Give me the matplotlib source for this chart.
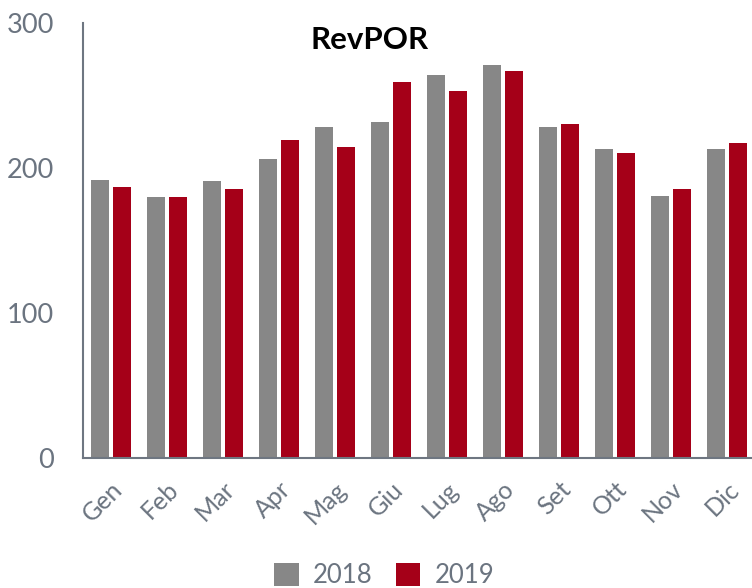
import numpy as np
import matplotlib.pyplot as plt

months = ["Gen", "Feb", "Mar", "Apr", "Mag", "Giu", "Lug", "Ago", "Set", "Ott", "Nov", "Dic"]
rev_2018 = [192, 180, 191, 206, 228, 232, 264, 271, 228, 213, 181, 213]
rev_2019 = [187, 180, 185.5, 219, 214.5, 259, 253, 267, 230, 210, 185.5, 217]

grey = "#878787"
red = "#A50018"
axis_col = "#6E7681"
label_col = "#6B7480"

plt.rcParams["font.family"] = ["Lato", "DejaVu Sans"]

fig = plt.figure(figsize=(7.52, 5.88), dpi=100)
ax = fig.add_axes([83 / 752, 130 / 588, 672 / 752, 435 / 588])

x = np.arange(len(months))
w = 0.32
off = 0.196
ax.bar(x - off, rev_2018, width=w, color=grey, label="2018")
ax.bar(x + off, rev_2019, width=w, color=red, label="2019")

ax.set_xlim(-0.5, len(months) - 0.5)
ax.set_ylim(0, 300)
ax.set_yticks([0, 100, 200, 300])
ax.tick_params(axis="y", length=0, pad=21, labelsize=19.5, labelcolor=label_col)
ax.tick_params(axis="x", length=0, pad=14, labelsize=18, labelcolor=label_col)
ax.set_xticks(x)
ax.set_xticklabels(months, rotation=45, ha="right", rotation_mode="anchor")

for s in ["top", "right"]:
    ax.spines[s].set_visible(False)
for s in ["left", "bottom"]:
    ax.spines[s].set_color(axis_col)
    ax.spines[s].set_linewidth(1.5)

fig.text(370 / 752, 1 - 40 / 588, "RevPOR", ha="center", va="center",
         fontsize=22.5, fontweight="bold", color="black")

fig.legend(loc="lower center", bbox_to_anchor=(0.511, -0.04), ncol=2, frameon=False,
           fontsize=18.5, handlelength=0.95, handleheight=0.95, columnspacing=0.9,
           handletextpad=0.55, labelcolor=label_col)

fig.savefig("out.png", dpi=100)
